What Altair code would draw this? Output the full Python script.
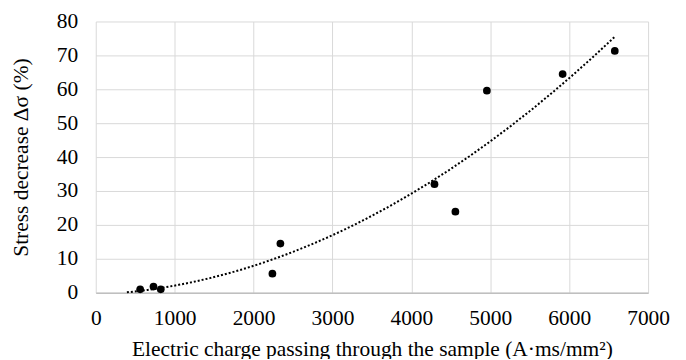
import altair as alt
import pandas as pd

charge = [563, 732, 824, 2239, 2340, 4293, 4558, 4957, 5917, 6578]
stress = [1.0, 1.8, 1.0, 5.6, 14.5, 32.0, 23.9, 59.6, 64.5, 71.3]

df = pd.DataFrame({"x": charge, "y": stress})

FONT = "Times New Roman"

xenc = alt.X("x:Q", scale=alt.Scale(domain=[0, 7000], nice=False),
             axis=alt.Axis(values=list(range(0, 7001, 1000)), format="d",
                           title="Electric charge passing through the sample (A·ms/mm²)"))
yenc = alt.Y("y:Q", scale=alt.Scale(domain=[0, 80], nice=False),
             axis=alt.Axis(values=list(range(0, 81, 10)), format="d",
                           title="Stress decrease Δσ (%)"))

base = alt.Chart(df)

points = base.mark_circle(size=60, color="black", opacity=1).encode(x=xenc, y=yenc)

trend = base.transform_regression(
    "x", "y", method="poly", order=2, extent=[0, 6578]
).transform_filter("datum.y >= 0").mark_line(
    color="black", strokeDash=[2, 2], strokeWidth=2
).encode(x=xenc, y=yenc)

chart = alt.layer(trend, points).properties(
    width=554, height=272,
    padding={"left": 88, "top": 13, "right": 30, "bottom": 66},
    autosize=alt.AutoSizeParams(type="none"),
).configure(
    font=FONT
).configure_view(
    stroke=None
).configure_axis(
    labelFont=FONT, titleFont=FONT, labelFontSize=21.5, titleFontSize=21.5,
    labelColor="black", titleColor="black", titleFontWeight="normal",
    gridColor="#d9d9d9", gridWidth=1, ticks=False, domain=False,
    labelOverlap=False, labelFlush=False,
).configure_axisX(
    labelPadding=15, titlePadding=10, domain=True, domainColor="#bfbfbf", domainWidth=1.5,
).configure_axisY(
    labelPadding=18, titlePadding=24,
)

chart.save("out.html", embed_options={"renderer": "svg", "actions": False})
